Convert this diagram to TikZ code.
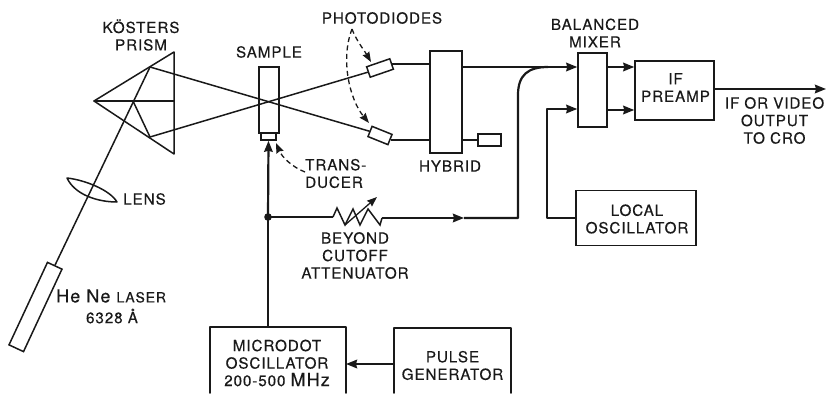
\documentclass[tikz,border=0pt]{standalone}
\usepackage{fontspec}
\setmainfont[LetterSpace=6,FakeBold=0.35]{TeX Gyre Heros}
\usetikzlibrary{arrows.meta,calc}
\tikzset{
  thinl/.style={line width=1.5pt,black!90,line cap=round,line join=round},
  thickl/.style={line width=2.2pt,black!90,line join=round},
  headl/.style={-{Stealth[length=11pt,width=8.5pt,inset=1pt]}},
  boxn/.style={draw=black!90,line width=1.5pt,inner sep=0pt,fill=white},
  lbl/.style={align=center,inner sep=0pt,font=\fontsize{15.2}{17.5}\selectfont,text=black!90},
  dashl/.style={line width=1.3pt,black!90,dash pattern=on 5pt off 3.5pt,
    -{Stealth[length=10pt,width=7.5pt,inset=1pt]}},
}
\begin{document}
\begin{tikzpicture}[x=1pt,y=-1pt]
\useasboundingbox (0,0) rectangle (826,393);
% key points
\coordinate (apex) at (94,101);
\coordinate (ptop) at (174,52);
\coordinate (pbot) at (174,154);
\coordinate (pmid) at (174,101);
\coordinate (hit) at (133,101);
\coordinate (rtop) at (150,67);
\coordinate (rbot) at (150,137);
\coordinate (junction) at (268,217);
% laser
\node[boxn,minimum width=16pt,minimum height=91pt,rotate=-25,fill=none] (laser) at (35.5,307) {};
% lens
\coordinate (lensa) at (67,178);
\coordinate (lensb) at (117,202);
\draw[thinl] (lensa) .. controls (85,180) and (110,190) .. (lensb)
              .. controls (98,202) and (75,195) .. cycle;
% sample
\node[boxn,fill=none,minimum width=20pt,minimum height=66pt] (sample) at (269,100) {};
\node[boxn,fill=none,minimum width=15pt,minimum height=7pt] (trans) at (268.5,136.5) {};
% prism
\draw[thinl] (apex) -- (ptop) -- (pbot) -- cycle;
\draw[thinl] (apex) -- (pmid);
% diodes
\node[boxn,minimum width=24.5pt,minimum height=11pt,rotate=19] (pdu) at (380,68) {};
\node[boxn,minimum width=21.5pt,minimum height=11pt,rotate=-22] (pdl) at (380,135.5) {};
% beams
\draw[thinl] (laser.north) -- (rtop);
\draw[thinl] (hit) -- (rbot);
\draw[thinl] (rtop) -- (pdl.west);
\draw[thinl] (rbot) -- (pdu.west);
% boxes
\node[boxn,minimum width=32pt,minimum height=102pt] (hybrid) at (446,102) {};
\node[boxn,minimum width=23pt,minimum height=12pt] (load) at (489.5,140) {};
\node[boxn,minimum width=29pt,minimum height=74pt] (mixer) at (592.5,90) {};
\node[boxn,minimum width=79pt,minimum height=59pt] (preamp) at (674.5,90.5) {};
\node[boxn,minimum width=120pt,minimum height=55pt] (local) at (636,218) {};
% lower open boxes
\draw[thinl] (210,393) -- (210,327) -- (346,327) -- (346,393);
\draw[thinl] (394,393) -- (394,328) -- (511,328) -- (511,393);
\coordinate (mdtop) at (268,327);
\coordinate (mdr) at (346,364);
\coordinate (pgl) at (394,364);
% electrical
\draw[thickl] (pdu.east) -- (pdu.east -| hybrid.west);
\draw[thickl] (pdl.east) -- (pdl.east -| hybrid.west);
\draw[thickl,headl] (hybrid.east |- 0,67) -- (mixer.west |- 0,67);
\draw[thickl] (hybrid.east |- load.west) -- (load.west);
\draw[thickl,headl] (mixer.east |- 0,67) -- (preamp.west |- 0,67);
\draw[thickl,headl] (mixer.east |- 0,110) -- (preamp.west |- 0,110);
\draw[thickl,headl] (preamp.east |- 0,89) -- (826,89);
\draw[thickl,headl] (local.west) -- (547,218) -- (547,109) -- (mixer.west |- 0,109);
\draw[thickl,headl] (pgl) -- (mdr);
\draw[thickl] (mdtop) -- (junction);
\draw[thickl,headl] (junction) -- (trans.south);
\fill[black!90] (junction) circle (3.8pt);
% attenuator
\coordinate (za) at (333,217);
\coordinate (zb) at (382,218);
\draw[thickl] (junction) -- (za);
\draw[line width=1.5pt,black!90,line join=miter] (za) -- (337,208) -- (345,225) -- (353,209) -- (360,225) -- (368,209) -- (380,225) -- (zb);
\draw[line width=1.3pt,black!90,-{Stealth[length=10pt,width=7.5pt,inset=1pt]}] (345,225) -- (377,197);
\coordinate (attm) at (464,218);
\draw[thickl,headl] (zb) -- (attm);
\draw[thickl] (attm) -- (518,218) -- (518,95) .. controls (518,75) and (528,67) .. (548,67);
% dashed
\coordinate (pdfork) at (352,29);
\draw[dashl] (pdfork) .. controls (356,40) and (364,50) .. (371,62);
\draw[dashl] (pdfork) .. controls (340,60) and (350,100) .. (369,123);
\draw[dashl] (305,172) .. controls (292,167) and (282,157) .. (276,143);
% labels
\node[lbl] (lkos) at (141,35) {KÖSTERS\\PRISM};
\node[lbl] (lsam) at (269,52) {SAMPLE};
\node[lbl] (lpho) at (382,18) {PHOTODIODES};
\node[lbl,align=left,anchor=west] (ltra) at (305,173.5) {TRANS-\\DUCER};
\node[lbl] (lhyb) at (450,166) {HYBRID};
\node[lbl] (lbal) at (595,33) {BALANCED\\MIXER};
\node[lbl] (lpre) at (675.5,87.5) {IF\\PREAMP};
\node[lbl] (lif) at (774.5,120.5) {IF OR VIDEO\\OUTPUT\\TO CRO};
\node[lbl] (lloc) at (637,219) {LOCAL\\OSCILLATOR};
\node[lbl] (llen) at (144.5,199) {LENS};
\node[lbl] (lbey) at (355,255.5) {BEYOND\\CUTOFF\\ATTENUATOR};
\node[lbl,align=left,anchor=west] (lhe) at (56,296) {\fontsize{18}{17}\selectfont He Ne \fontsize{14}{17}\selectfont LASER};
\node[lbl] (lwave) at (112,316) {6328 Å};
\node[lbl] (lmic) at (277,363) {MICRODOT\\OSCILLATOR\\200-500 \fontsize{18}{17}\selectfont MHz};
\node[lbl] (lpul) at (452.5,365.5) {PULSE\\GENERATOR};
\end{tikzpicture}
\end{document}
